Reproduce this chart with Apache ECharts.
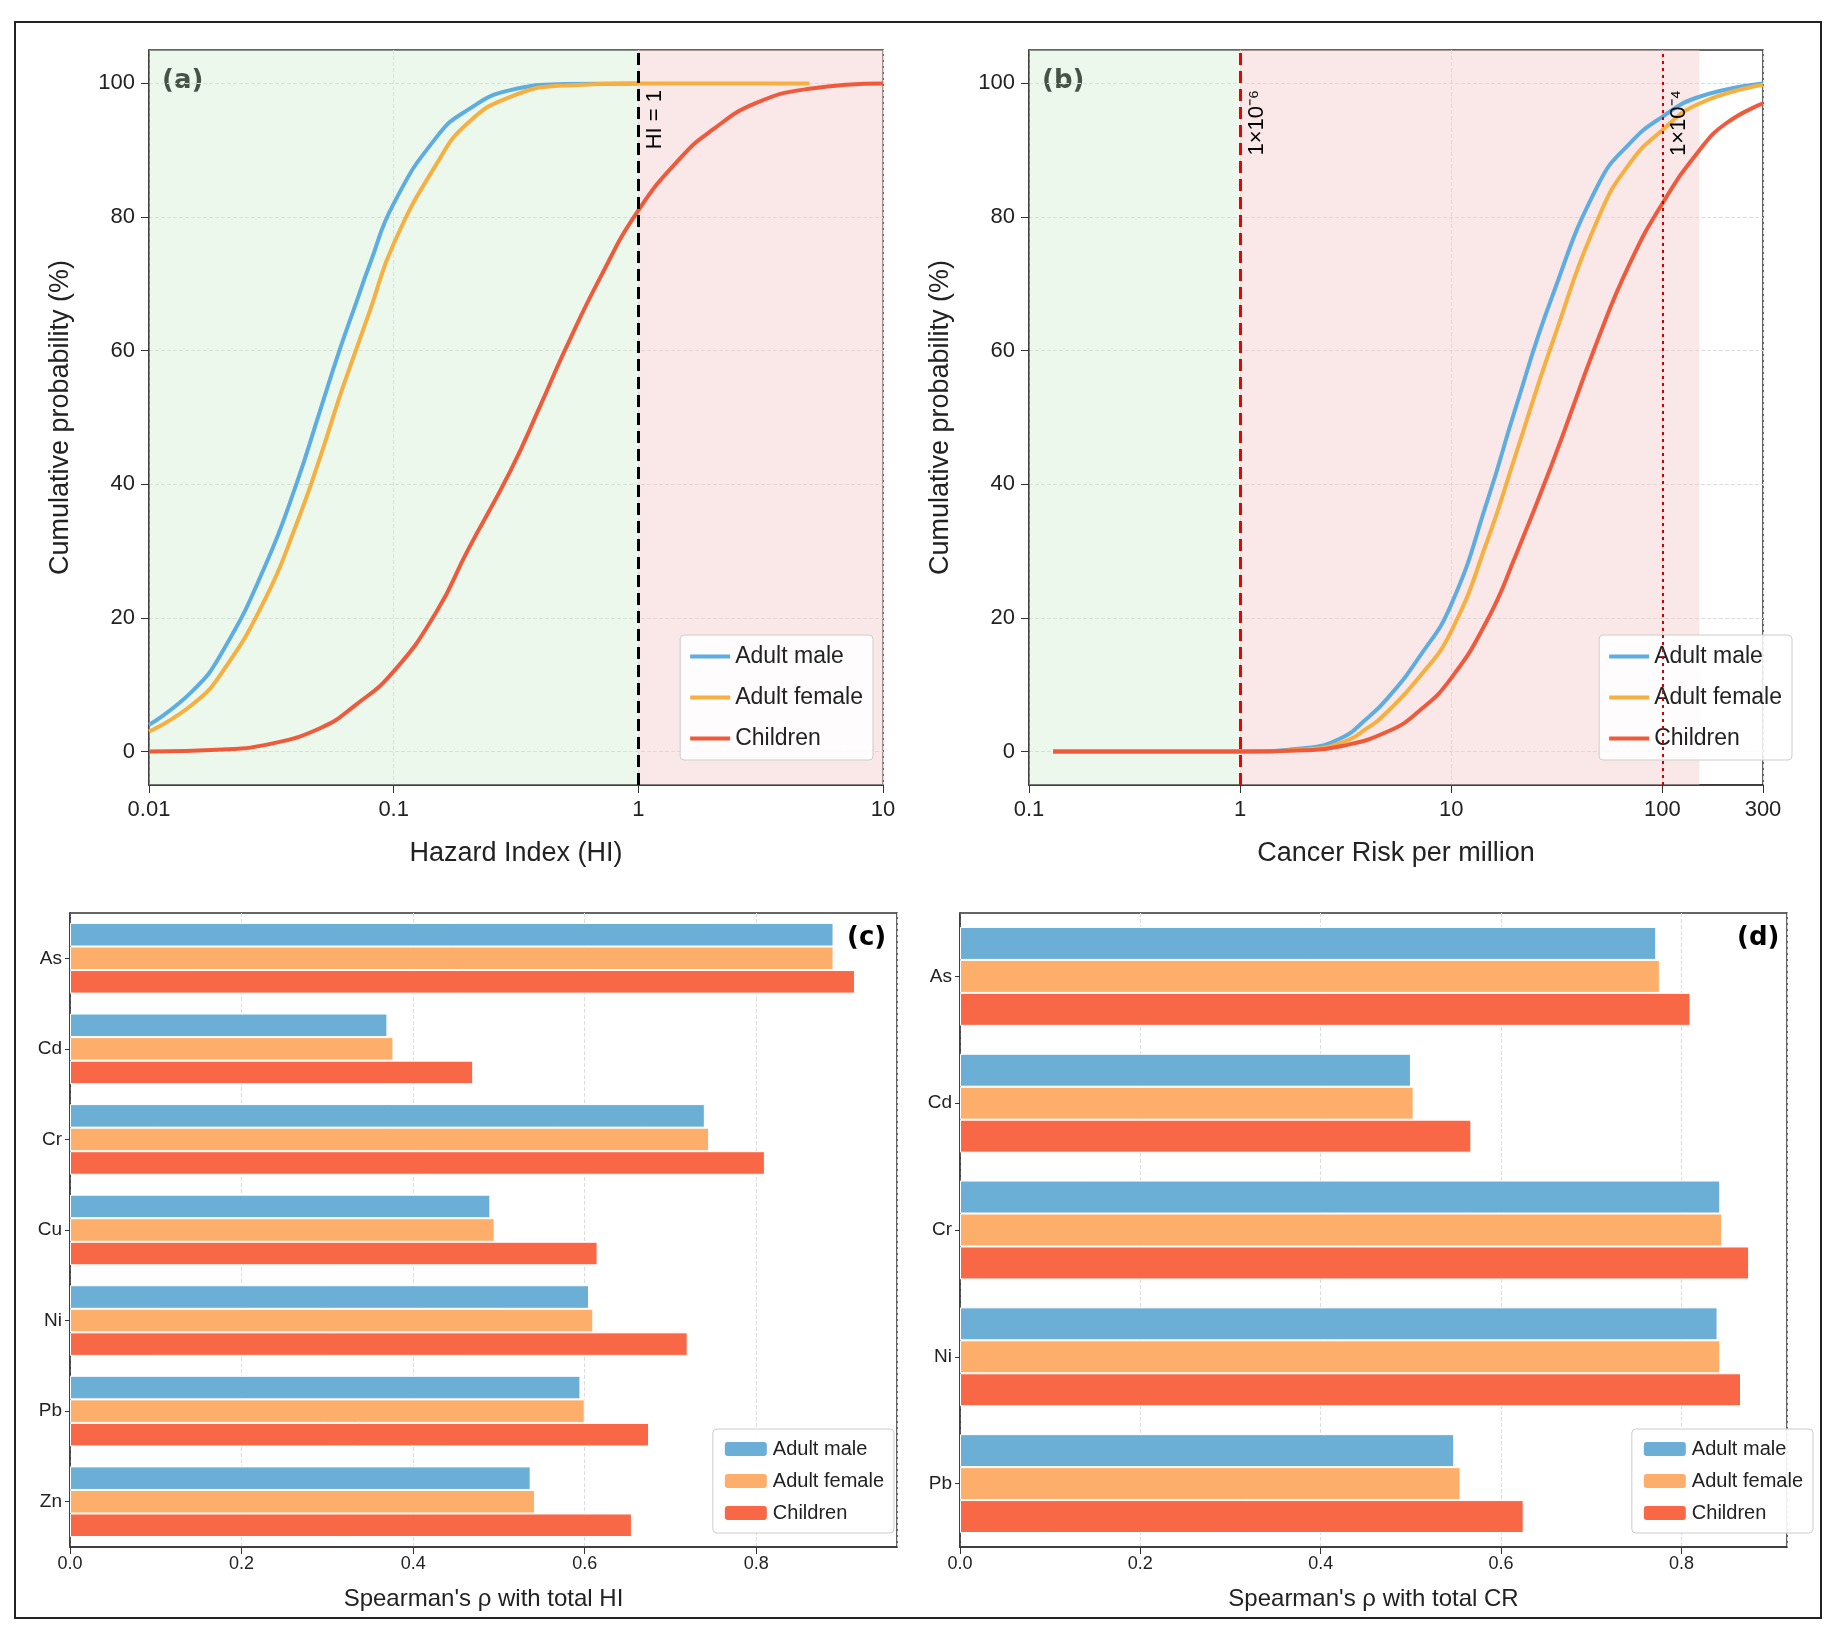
<!DOCTYPE html>
<html>
<head>
<meta charset="utf-8">
<script src="https://cdn.jsdelivr.net/npm/echarts@6/dist/echarts.min.js"></script>
<style>
  body { margin:0; background:#fff; width:1837px; height:1633px; position:relative; font-family:"DejaVu Sans"; }
  .frame { position:absolute; left:14px; top:21px; width:1804px; height:1594px; border:2px solid #222; }
  .c { position:absolute; }
</style>
</head>
<body>
<div class="frame"></div>
<div id="ca" class="c" style="left:0;top:0;width:918px;height:900px"></div>
<div id="cb" class="c" style="left:880px;top:0;width:957px;height:900px"></div>
<div id="cc" class="c" style="left:0;top:880px;width:918px;height:753px"></div>
<div id="cd" class="c" style="left:890px;top:880px;width:947px;height:753px"></div>
<script>
// panel (a): [HI, cumulative %]
var hiMale = [[0.01,4],[0.015,9],[0.02,15],[0.03,28],[0.04,40],[0.05,51],[0.06,60],[0.07,67],[0.08,73],[0.1,82],[0.15,92],[0.2,96],[0.3,99],[0.5,99.9],[1,100]];
var hiFemale = [[0.01,3],[0.015,7],[0.02,12],[0.03,23],[0.04,34],[0.05,44],[0.06,53],[0.07,60],[0.08,66],[0.1,76],[0.15,88],[0.2,94],[0.3,98],[0.5,99.7],[1,100],[5,100]];
var hiChildren = [[0.01,0],[0.02,0.3],[0.03,1],[0.05,3.5],[0.07,7],[0.1,12],[0.15,21],[0.2,30],[0.3,42],[0.4,52],[0.5,60],[0.7,71],[1,81],[1.5,89],[2,93],[3,97],[5,99.2],[10,100]];
// panel (b): [cancer risk per million, cumulative %]
var crMale = [[0.13,0],[1,0],[2,0.5],[3,2],[4,5],[5,8],[7,14],[10,22],[15,38],[20,51],[30,68],[50,85],[70,91],[100,95],[150,98],[300,100]];
var crFemale = [[0.13,0],[1,0],[2,0.3],[3,1.3],[4,3.5],[5,6],[7,11],[10,18],[15,32],[20,44],[30,61],[50,80],[70,88],[100,93],[150,97],[300,99.8]];
var crChildren = [[0.13,0],[1,0],[2,0.2],[3,0.8],[5,3],[7,6],[10,11],[15,20],[20,29],[30,43],[50,62],[70,73],[100,82],[150,90],[200,94],[300,97]];
var probTicks = [0, 20, 40, 60, 80, 100];
// panels (c), (d): Spearman's rho
var metalsHI = ['As','Cd','Cr','Cu','Ni','Pb','Zn'];
var rhoHIMale = [0.89,0.37,0.74,0.49,0.605,0.595,0.537];
var rhoHIFemale = [0.89,0.377,0.745,0.495,0.61,0.6,0.542];
var rhoHIChildren = [0.915,0.47,0.81,0.615,0.72,0.675,0.655];
var metalsCR = ['As','Cd','Cr','Ni','Pb'];
var rhoCRMale = [0.772,0.5,0.843,0.84,0.548];
var rhoCRFemale = [0.776,0.503,0.845,0.843,0.555];
var rhoCRChildren = [0.81,0.567,0.875,0.866,0.625];

var names = ['Adult male','Adult female','Children'];
var lineCols = ['#5dade2','#f5b041','#f05a3c'];
var barCols = ['#6baed6','#fdae6b','#f96846'];
var lg = function (v) { return Math.log10(v); };
var gridLine = {show:true, lineStyle:{color:'#ddd', type:'dashed'}};
var axisLine = {show:true, onZero:false, lineStyle:{color:'#333', width:1.5}};
var txt = '#222';

function lineLegend() {
  return {orient:'vertical', right:45, bottom:140, icon:'rect', itemWidth:40, itemHeight:4, itemGap:18,
    backgroundColor:'rgba(255,255,255,0.85)', borderColor:'#ccc', borderWidth:1, borderRadius:4, padding:[10,10],
    textStyle:{fontSize:23, color:txt}, data:names};
}
function probAxis() {
  return {type:'value', min:-5, max:105, name:'Cumulative probability (%)', nameLocation:'middle', nameGap:75,
    nameTextStyle:{fontSize:27, color:txt}, axisLine:axisLine,
    axisTick:{show:true, length:8, customValues:probTicks},
    axisLabel:{fontSize:22, color:txt, margin:14, customValues:probTicks},
    splitLine:gridLine};
}
function panelTag(t, x, y) {
  return {type:'text', left:x, top:y, style:{text:t, font:'bold 26px "DejaVu Sans"', fill:'#000'}};
}

// (a)
echarts.init(document.getElementById('ca')).setOption({
  animation:false,
  grid:{left:149, top:50, width:734, height:735, show:true, borderColor:'#333', borderWidth:1.5},
  graphic:[panelTag('(a)', 162, 68)],
  legend:lineLegend(),
  xAxis:{type:'log', min:0.01, max:10, logBase:10, name:'Hazard Index (HI)', nameLocation:'middle', nameGap:55,
    nameTextStyle:{fontSize:27, color:txt}, axisLine:axisLine, axisTick:{show:true, length:8},
    axisLabel:{fontSize:22, color:txt, margin:14}, splitLine:gridLine, minorTick:{show:false}},
  yAxis:probAxis(),
  series:[
    {name:names[0], type:'line', data:hiMale, smooth:true, symbol:'none', lineStyle:{width:4, color:lineCols[0]}, itemStyle:{color:lineCols[0]},
      markArea:{silent:true, itemStyle:{color:'rgba(200,235,200,0.35)'}, data:[[{xAxis:0.01},{xAxis:1}]]}},
    {name:names[1], type:'line', data:hiFemale, smooth:true, symbol:'none', lineStyle:{width:4, color:lineCols[1]}, itemStyle:{color:lineCols[1]},
      markArea:{silent:true, itemStyle:{color:'rgba(245,205,205,0.45)'}, data:[[{xAxis:1},{xAxis:10}]]}},
    {name:names[2], type:'line', data:hiChildren, smooth:true, symbol:'none', lineStyle:{width:4, color:lineCols[2]}, itemStyle:{color:lineCols[2]},
      markLine:{silent:true, symbol:'none', lineStyle:{color:'#000', type:[12,6], width:3},
        label:{show:true, position:'insideEndBottom', formatter:'HI = 1', fontSize:22, color:'#000', distance:[40,6]},
        data:[{xAxis:1}]}}
  ]
});

// (b) x plotted on log10 scale
echarts.init(document.getElementById('cb')).setOption({
  animation:false,
  grid:{left:149, top:50, width:734, height:735, show:true, borderColor:'#333', borderWidth:1.5},
  graphic:[panelTag('(b)', 162, 68)],
  legend:lineLegend(),
  xAxis:{type:'value', min:-1, max:lg(300), interval:1, name:'Cancer Risk per million', nameLocation:'middle', nameGap:55,
    nameTextStyle:{fontSize:27, color:txt}, axisLine:axisLine, axisTick:{show:true, length:8},
    axisLabel:{fontSize:22, color:txt, margin:14, showMaxLabel:true, formatter:function(v){
      if (Math.abs(v-lg(300))<1e-6) return '300';
      var r = Math.pow(10, v); return r<1 ? r.toFixed(1) : Math.round(r)+'';}}, splitLine:gridLine},
  yAxis:probAxis(),
  series:[
    {name:names[0], type:'line', data:crMale.map(function(p){return [lg(p[0]),p[1]];}), smooth:true, symbol:'none', lineStyle:{width:4, color:lineCols[0]}, itemStyle:{color:lineCols[0]},
      markArea:{silent:true, itemStyle:{color:'rgba(200,235,200,0.35)'}, data:[[{xAxis:-1},{xAxis:0}]]}},
    {name:names[1], type:'line', data:crFemale.map(function(p){return [lg(p[0]),p[1]];}), smooth:true, symbol:'none', lineStyle:{width:4, color:lineCols[1]}, itemStyle:{color:lineCols[1]},
      markArea:{silent:true, itemStyle:{color:'rgba(245,205,205,0.45)'}, data:[[{xAxis:0},{xAxis:lg(150)}]]},
      markLine:{silent:true, symbol:'none', lineStyle:{color:'#c00', type:[3,4], width:2},
        label:{show:true, position:'insideEndBottom', formatter:'1×10⁻⁴', fontSize:22, color:'#000', distance:[40,6]},
        data:[{xAxis:2}]}},
    {name:names[2], type:'line', data:crChildren.map(function(p){return [lg(p[0]),p[1]];}), smooth:true, symbol:'none', lineStyle:{width:4, color:lineCols[2]}, itemStyle:{color:lineCols[2]},
      markLine:{silent:true, symbol:'none', lineStyle:{color:'#e00', type:[12,6], width:3},
        label:{show:true, position:'insideEndBottom', formatter:'1×10⁻⁶', fontSize:22, color:'#000', distance:[40,6]},
        data:[{xAxis:0}]}}
  ]
});

function barOpt(cats, a, b, c, max, xname, tag, tagX) {
  var s = [a, b, c].map(function (d, i) {
    return {name:names[i], type:'bar', data:d, barGap:'0%', barCategoryGap:'22%', itemStyle:{color:barCols[i], borderColor:'#fff', borderWidth:1}};
  });
  return {
    animation:false,
    grid:{left:70, top:33, width:827, height:634, show:true, borderColor:'#333', borderWidth:1.5},
    graphic:[panelTag(tag, tagX, 45)],
    legend:{orient:'vertical', right:24, bottom:100, itemWidth:44, itemHeight:16, itemGap:12,
      backgroundColor:'rgba(255,255,255,0.9)', borderColor:'#ccc', borderWidth:1, borderRadius:4, padding:[10,10],
      textStyle:{fontSize:20, color:txt}, data:names},
    xAxis:{type:'value', min:0, max:max, interval:0.2, name:xname, nameLocation:'middle', nameGap:40,
      nameTextStyle:{fontSize:24, color:txt}, axisLine:axisLine, axisTick:{show:true, length:7},
      axisLabel:{fontSize:18, color:txt, showMaxLabel:false, formatter:function(v){return v.toFixed(1);}}, splitLine:gridLine},
    yAxis:{type:'category', data:cats, inverse:true, axisLine:axisLine, axisTick:{show:true, alignWithLabel:true},
      axisLabel:{fontSize:19, color:txt}},
    series:s
  };
}
echarts.init(document.getElementById('cc')).setOption(barOpt(metalsHI, rhoHIMale, rhoHIFemale, rhoHIChildren, 0.964, "Spearman's ρ with total HI", '(c)', 847));
echarts.init(document.getElementById('cd')).setOption(barOpt(metalsCR, rhoCRMale, rhoCRFemale, rhoCRChildren, 0.917, "Spearman's ρ with total CR", '(d)', 847));
</script>
</body>
</html>
